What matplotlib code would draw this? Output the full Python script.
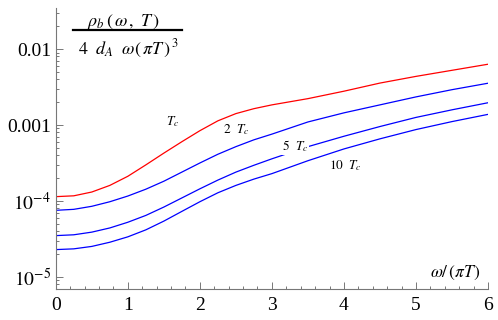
import numpy as np
import matplotlib
matplotlib.use("Agg")
import matplotlib.pyplot as plt
from matplotlib.ticker import FixedLocator, LogLocator, MultipleLocator, NullFormatter

plt.rcParams['mathtext.fontset'] = 'stix'
plt.rcParams['font.family'] = ['Liberation Serif', 'DejaVu Serif']

# data (log10 of the quantity)
x = [0, 0.25, 0.5, 0.75, 1.0, 1.25, 1.5, 1.75, 2.0, 2.25, 2.5, 2.75, 3.0,
     3.5, 4.0, 4.5, 5.0, 5.5, 6.0]
log_Tc = [-3.943, -3.932, -3.882, -3.795, -3.675, -3.525, -3.37, -3.22, -3.075, -2.945,
          -2.85, -2.785, -2.735, -2.653, -2.555, -2.448, -2.36, -2.28, -2.20]
log_2Tc = [-4.123, -4.11, -4.07, -4.01, -3.935, -3.845, -3.74, -3.62, -3.50, -3.385,
           -3.285, -3.195, -3.12, -2.96, -2.84, -2.735, -2.63, -2.535, -2.45]
log_5Tc = [-4.456, -4.445, -4.41, -4.355, -4.28, -4.19, -4.08, -3.96, -3.84, -3.725,
           -3.62, -3.53, -3.445, -3.285, -3.148, -3.02, -2.90, -2.80, -2.707]
log_10Tc = [-4.64, -4.63, -4.598, -4.543, -4.472, -4.38, -4.265, -4.137, -4.01, -3.892,
            -3.795, -3.712, -3.64, -3.47, -3.315, -3.182, -3.06, -2.955, -2.86]

series = [(log_Tc, 'red'), (log_2Tc, 'blue'), (log_5Tc, 'blue'), (log_10Tc, 'blue')]
labels = [(r'$T_c$', 1.62, -2.96), (r'$2\ \ T_c$', 2.5, -3.066),
          (r'$5\ \ T_c$', 3.32, -3.28), (r'$10\ \ T_c$', 4.02, -3.54)]

y_ticks = [1e-5, 1e-4, 1e-3, 1e-2]
y_ticklabels = [r'$10^{-5}$', r'$10^{-4}$', '0.001', '0.01']
x_ticks = [0, 1, 2, 3, 4, 5, 6]

fig = plt.figure(figsize=(4.98, 3.2), dpi=100)
ax = fig.add_axes([0.112, 0.097, 0.868, 0.878])

for ys, c in series:
    ax.plot(x, 10 ** np.array(ys), color=c, lw=0.9, zorder=2)

for txt, lx, ly in labels:
    ax.text(lx, 10 ** ly, txt, fontsize=9.5, ha='center', va='center', zorder=3,
            bbox=dict(facecolor='white', edgecolor='none', pad=0.8) if txt.startswith(r'$5') else None)

ax.set_yscale('log')
ax.set_xlim(0, 6)
ax.set_ylim(10 ** -5.158, 10 ** -1.46)

ax.yaxis.set_major_locator(FixedLocator(y_ticks))
ax.set_yticklabels(y_ticklabels)
ax.yaxis.set_minor_locator(LogLocator(base=10, subs=np.arange(2, 10)))
ax.yaxis.set_minor_formatter(NullFormatter())
ax.set_xticks(x_ticks)
ax.set_xticklabels([str(v) for v in x_ticks])
ax.xaxis.set_minor_locator(MultipleLocator(0.2))

for s in ['top', 'right']:
    ax.spines[s].set_visible(False)
for s in ['left', 'bottom']:
    ax.spines[s].set_color('#777777')
    ax.spines[s].set_linewidth(0.8)

ax.tick_params(which='both', direction='in', color='#777777', labelsize=14, width=0.7)
ax.tick_params(which='major', length=5)
ax.tick_params(which='minor', length=2.5)
ax.tick_params(axis='x', pad=6)

# axis labels
fig.text(0.247, 0.932, r'$\rho_b\,(\,\omega\,,\ T\,)$', fontsize=13, ha='center', va='center')
fig.add_artist(plt.Line2D([0.147, 0.366], [0.906, 0.906], color='black', lw=1.6))
fig.text(0.258, 0.846, r'$4\ \ d_A\ \ \omega(\,\pi T\,)^{\,3}$', fontsize=13, ha='center', va='center')
fig.text(0.914, 0.147, r'$\omega/\,(\pi T)$', fontsize=12.5, ha='center', va='center')

fig.savefig('out.png', dpi=100)
